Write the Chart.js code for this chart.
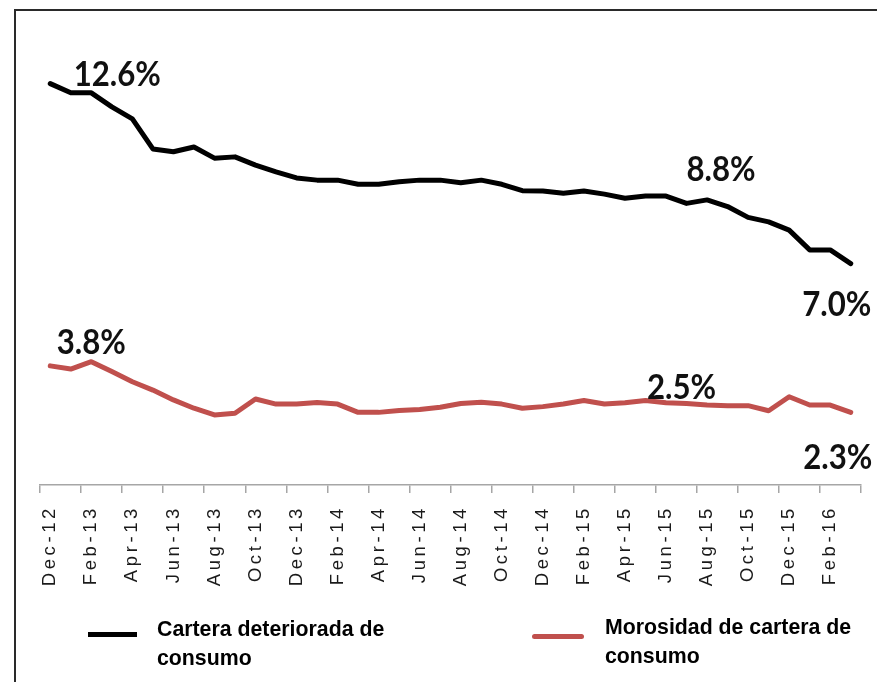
<!DOCTYPE html>
<html>
<head>
<meta charset="utf-8">
<script src="https://cdn.jsdelivr.net/npm/chart.js@4.4.1/dist/chart.umd.min.js"></script>
<style>
  html, body { margin: 0; padding: 0; background: #fff; }
  body { width: 877px; height: 682px; position: relative; overflow: hidden; }
  #frame { position: absolute; left: 14px; top: 9px; width: 900px; height: 700px; border: 2px solid #2a2a2a; box-sizing: border-box; }
  #wrap { position: absolute; left: 0; top: 0; width: 877px; height: 682px; }
  .leg-line { position: absolute; height: 5px; }
  .leg-text { position: absolute; font-family: "Liberation Sans", Arial, sans-serif; font-weight: bold; font-size: 21.3px; line-height: 29px; color: #000; white-space: nowrap; }
</style>
</head>
<body>
<div id="frame"></div>
<div id="wrap"><canvas id="c" width="877" height="682"></canvas></div>
<div class="leg-line" id="leg1line" style="left:88px; top:632px; width:49px;"></div>
<div class="leg-text" id="leg1text" style="left:157px; top:615px;"></div>
<div class="leg-line" id="leg2line" style="left:532px; top:634px; width:52px; border-radius:3px;"></div>
<div class="leg-text" id="leg2text" style="left:605px; top:613px;"></div>
<script>
// ---- Data ----
const months = [
  "Dec-12","Jan-13","Feb-13","Mar-13","Apr-13","May-13","Jun-13","Jul-13","Aug-13","Sep-13","Oct-13","Nov-13",
  "Dec-13","Jan-14","Feb-14","Mar-14","Apr-14","May-14","Jun-14","Jul-14","Aug-14","Sep-14","Oct-14","Nov-14",
  "Dec-14","Jan-15","Feb-15","Mar-15","Apr-15","May-15","Jun-15","Jul-15","Aug-15","Sep-15","Oct-15","Nov-15",
  "Dec-15","Jan-16","Feb-16","Mar-16"
];
const carteraDeteriorada = [
  12.6, 12.31, 12.31, 11.87, 11.49, 10.55, 10.46, 10.61, 10.26, 10.30, 10.04, 9.83,
  9.64, 9.57, 9.57, 9.44, 9.44, 9.52, 9.57, 9.57, 9.49, 9.57, 9.44, 9.24,
  9.23, 9.16, 9.23, 9.13, 9.00, 9.07, 9.07, 8.84, 8.95, 8.74, 8.40, 8.26,
  8.00, 7.38, 7.38, 6.95
];
const morosidad = [
  3.74, 3.64, 3.87, 3.56, 3.24, 2.98, 2.67, 2.41, 2.20, 2.25, 2.70, 2.54,
  2.54, 2.59, 2.54, 2.28, 2.28, 2.34, 2.37, 2.44, 2.56, 2.60, 2.54, 2.41,
  2.46, 2.54, 2.65, 2.54, 2.58, 2.65, 2.58, 2.56, 2.51, 2.49, 2.49, 2.33,
  2.77, 2.51, 2.51, 2.28
];
const seriesNames = ["Cartera deteriorada de consumo", "Morosidad de cartera de consumo"];
const legendLines = [["Cartera deteriorada de", "consumo"], ["Morosidad de cartera de", "consumo"]];
// value labels: dataset index, point index, text
const labelSeries = [0, 0, 0, 1, 1, 1];
const labelIndex  = [0, 32, 39, 0, 31, 39];
const labelText   = ["12.6%", "8.8%", "7.0%", "3.8%", "2.5%", "2.3%"];

// ---- Styles ----
const COLORS = ["#000000", "#c0504d"];
const labelOffsets = [[67, 2], [14, -19], [-14, 52], [41, -12], [-5, -4], [-13, 57]];
const AXIS_GRAY = "#a6a6a6";

document.getElementById('leg1line').style.background = COLORS[0];
document.getElementById('leg2line').style.background = COLORS[1];
document.getElementById('leg1text').innerHTML = legendLines[0].join('<br>');
document.getElementById('leg2text').innerHTML = legendLines[1].join('<br>');

const spacingPlugin = {
  id: 'spacing',
  beforeDraw(chart) { chart.ctx.letterSpacing = '3.6px'; },
  beforeDatasetsDraw(chart) { chart.ctx.letterSpacing = '0px'; }
};

const valueLabels = {
  id: 'valueLabels',
  afterDatasetsDraw(chart) {
    const ctx = chart.ctx;
    ctx.save();
    ctx.letterSpacing = '0px';
    ctx.fillStyle = '#111';
    ctx.textAlign = 'center';
    ctx.textBaseline = 'alphabetic';
    ctx.font = 'bold 30px Lato, "Open Sans", sans-serif';
    for (let k = 0; k < labelText.length; k++) {
      const el = chart.getDatasetMeta(labelSeries[k]).data[labelIndex[k]];
      const x = el.x + labelOffsets[k][0];
      const y = el.y + labelOffsets[k][1];
      ctx.save();
      ctx.translate(x, y);
      ctx.scale(1.04, 1.15);
      ctx.fillText(labelText[k], 0, 0);
      ctx.restore();
    }
    ctx.restore();
  }
};

new Chart(document.getElementById('c'), {
  type: 'line',
  data: {
    labels: months,
    datasets: [
      { label: seriesNames[0], data: carteraDeteriorada, borderColor: COLORS[0], borderWidth: 5,
        pointRadius: 0, tension: 0, borderCapStyle: 'round', borderJoinStyle: 'round', fill: false },
      { label: seriesNames[1], data: morosidad, borderColor: COLORS[1], borderWidth: 5,
        pointRadius: 0, tension: 0, borderCapStyle: 'round', borderJoinStyle: 'round', fill: false }
    ]
  },
  options: {
    responsive: false,
    animation: false,
    devicePixelRatio: 1,
    layout: { padding: { left: 40, right: 16, top: 39, bottom: 87 } },
    plugins: { legend: { display: false }, tooltip: { enabled: false } },
    scales: {
      x: {
        type: 'category',
        offset: true,
        afterFit(scale) { scale.height = 110; scale.paddingLeft = 0; scale.paddingRight = 0; },
        grid: {
          offset: true,
          drawOnChartArea: false,
          drawTicks: true,
          tickLength: 8,
          lineWidth: 1.5,
          color: (c) => (c.index === undefined || c.index % 2 === 0) ? AXIS_GRAY : 'rgba(0,0,0,0)'
        },
        border: { display: true, color: AXIS_GRAY, width: 1.5 },
        ticks: {
          autoSkip: false,
          maxRotation: 90,
          minRotation: 90,
          padding: 12,
          color: '#1a1a1a',
          font: { family: '"Liberation Sans", Arial, sans-serif', size: 18.5 },
          callback: function(v, i) { return i % 2 === 0 ? months[i] : ''; }
        }
      },
      y: { display: false, min: 0, max: 14 }
    }
  },
  plugins: [spacingPlugin, valueLabels]
});
</script>
</body>
</html>
